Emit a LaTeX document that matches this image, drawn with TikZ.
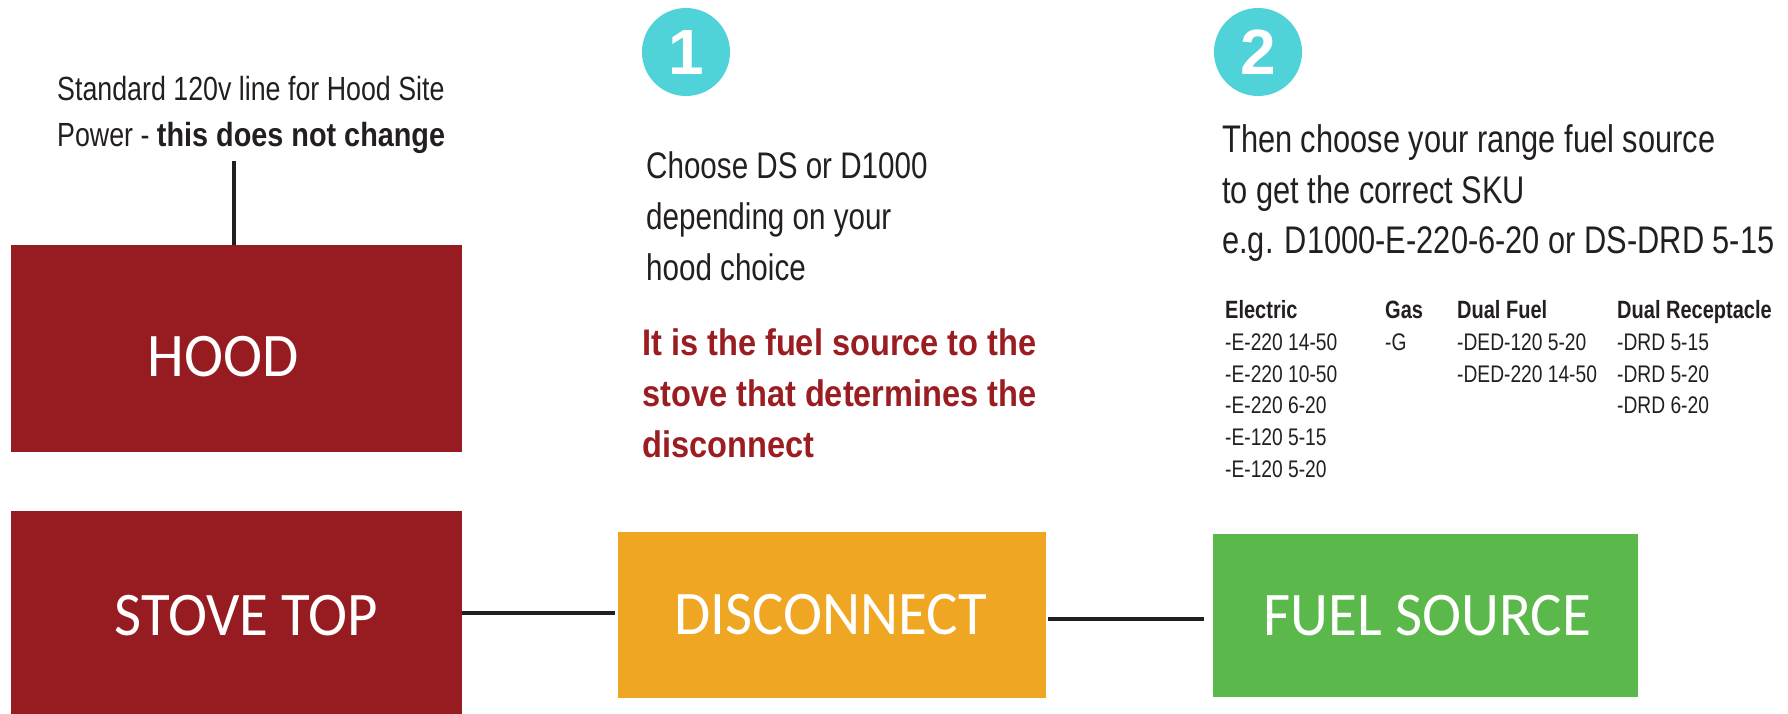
\documentclass[tikz,border=0pt]{standalone}
\usepackage{fontspec}
\setmainfont{Liberation Sans}
\newfontfamily\condR[FakeStretch=0.8]{Liberation Sans}
\newfontfamily\condB[FakeStretch=0.86]{Liberation Sans}
\newfontfamily\condBB[FakeStretch=0.88]{Liberation Sans}
\newfontfamily\boxfont[FakeStretch=0.95]{Carlito}
\newfontfamily\numfont{Liberation Sans}
\definecolor{hoodred}{HTML}{971C22}
\definecolor{discorange}{HTML}{EFA622}
\definecolor{fuelgreen}{HTML}{5AB94A}
\definecolor{stepteal}{HTML}{4FD2D8}
\definecolor{redtext}{HTML}{9A1D22}
\definecolor{ink}{HTML}{231F20}
\tikzset{
  box/.style={rectangle, inner sep=0pt, draw=none},
  boxlabel/.style={text=white, font=\boxfont\fontsize{62}{62}\selectfont, inner sep=0pt},
  wire/.style={draw=ink, line width=4.5pt},
  line/.style={anchor=base west, inner sep=0pt, text=ink},
  notefont/.style={font=\condR\fontsize{33.5}{40}\selectfont},
  bodyfont/.style={font=\condR\fontsize{37}{44}\selectfont},
  redfont/.style={font=\condBB\bfseries\fontsize{37}{44}\selectfont, text=redtext},
  headfont/.style={font=\condR\fontsize{38.5}{44}\selectfont},
  thfont/.style={font=\condR\bfseries\fontsize{25}{30}\selectfont},
  tdfont/.style={font=\condR\fontsize{24}{30}\selectfont},
  stepcircle/.style={circle, fill=stepteal, minimum size=88pt, inner sep=0pt, text=white,
    font=\numfont\bfseries\fontsize{64}{64}\selectfont}
}
\begin{document}
\begin{tikzpicture}[x=1pt,y=-1pt]
\useasboundingbox (0,0) rectangle (1788,713);
% boxes
\node[box, fill=hoodred, minimum width=451pt, minimum height=207pt,
  label={[boxlabel, xshift=-13.5pt, yshift=-8.5pt]center:HOOD}] (hood) at (236.5,348.5) {};
\node[box, fill=hoodred, minimum width=451pt, minimum height=204pt,
  label={[boxlabel, xshift=10pt, yshift=-3pt]center:STOVE TOP}] (stove) at (236.5,613) {};
\node[box, fill=discorange, minimum width=428pt, minimum height=166pt,
  label={[boxlabel, xshift=-1pt]center:DISCONNECT}] (disc) at (832,615) {};
\node[box, fill=fuelgreen, minimum width=425pt, minimum height=163pt,
  label={[boxlabel, xshift=2pt]center:FUEL SOURCE}] (fuel) at (1425.5,615.5) {};
% connectors
\coordinate (hoodnote) at (234,161);
\draw[wire] (hoodnote) -- (hoodnote |- hood.north);
\draw[wire, line width=4pt, shorten >=3pt] (stove.east) -- (stove.east -| disc.west);
\draw[wire, line width=4pt, shorten <=2pt, shorten >=9pt] ([yshift=-4pt]disc.east) -- ([yshift=-4pt]disc.east -| fuel.west);
% hood note
\node[line, notefont] (n1a) at (57,100) {Standard 120v line for Hood Site};
\node[line, notefont] (n1b) at (57,146) {Power - {\condB\bfseries this does not change}};
% step 1
\node[stepcircle] (c1) at (686,52) {1};
\node[line, bodyfont] (s1a) at (646,178) {Choose DS or D1000};
\node[line, bodyfont] (s1b) at (646,229) {depending on your};
\node[line, bodyfont] (s1c) at (646,280) {hood choice};
\node[line, redfont] (r1) at (642,355) {It is the fuel source to the};
\node[line, redfont] (r2) at (642,406) {stove that determines the};
\node[line, redfont] (r3) at (642,457) {disconnect};
% step 2
\node[stepcircle] (c2) at (1258,52) {2};
\node[line, headfont] (s2a) at (1222,152) {Then choose your range fuel source};
\node[line, headfont] (s2b) at (1222,203) {to get the correct SKU};
\node[line, headfont] (s2c) at (1222,253) {e.g. D1000-E-220-6-20 or DS-DRD 5-15};
% table
\node[line, thfont] (th1) at (1225,318) {Electric};
\node[line, thfont] (th2) at (1385,318) {Gas};
\node[line, thfont] (th3) at (1457,318) {Dual Fuel};
\node[line, thfont] (th4) at (1617,318) {Dual Receptacle};
\node[line, tdfont] (e1) at (1225,350) {-E-220 14-50};
\node[line, tdfont] (e2) at (1225,382) {-E-220 10-50};
\node[line, tdfont] (e3) at (1225,413) {-E-220 6-20};
\node[line, tdfont] (e4) at (1225,445) {-E-120 5-15};
\node[line, tdfont] (e5) at (1225,477) {-E-120 5-20};
\node[line, tdfont] (g1) at (1385,350) {-G};
\node[line, tdfont] (d1) at (1457,350) {-DED-120 5-20};
\node[line, tdfont] (d2) at (1457,382) {-DED-220 14-50};
\node[line, tdfont] (r1x) at (1617,350) {-DRD 5-15};
\node[line, tdfont] (r2x) at (1617,382) {-DRD 5-20};
\node[line, tdfont] (r3x) at (1617,413) {-DRD 6-20};
\end{tikzpicture}
\end{document}
